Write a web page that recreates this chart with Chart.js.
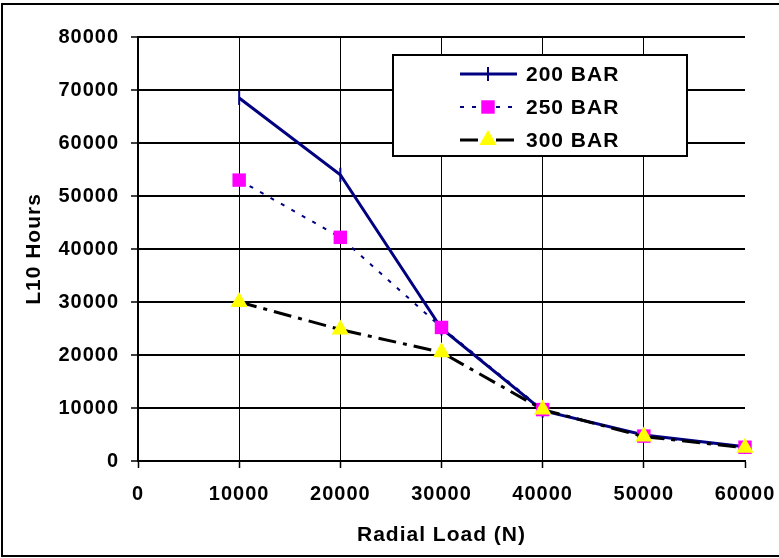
<!DOCTYPE html>
<html>
<head>
<meta charset="utf-8">
<script src="https://cdn.jsdelivr.net/npm/chart.js@4.4.1/dist/chart.umd.min.js"></script>
<style>
  html, body { margin: 0; padding: 0; background: #fff; }
  #wrap { width: 779px; height: 558px; position: relative; }
</style>
</head>
<body>
<div id="wrap"><canvas id="l10chart"></canvas></div>
<script>
'use strict';
//** Data */

let radialloads = [10000, 20000, 30000, 40000, 50000, 60000];
let bar200 = [68500, 54000, 25000, 9500, 4900, 2700];
let bar250 = [53000, 42200, 25200, 9700, 4700, 2600];
let bar300 = [30000, 24800, 20500, 9700, 4600, 2500];
let serieslabels = ['200 BAR', '250 BAR', '300 BAR'];
let yticks = [0, 10000, 20000, 30000, 40000, 50000, 60000, 70000, 80000];
let xticks = [0, 10000, 20000, 30000, 40000, 50000, 60000];

let ctx = document.getElementById('l10chart');

function topoints(values){
  let pts = [];
  for (let i = 0; i < radialloads.length; i++){
    pts.push({x: radialloads[i], y: values[i]});
  }
  return pts;
}

//** Plugins: spacing, frame and legend box */

let spacingplugin = {
  id: 'spacing',
  beforeUpdate(chart){ chart.ctx.letterSpacing = '1px'; },
  beforeDraw(chart){ chart.ctx.letterSpacing = '1px'; }
};

let frameplugin = {
  id: 'frame',
  afterDraw(chart){
    let c = chart.ctx;
    c.save();
    c.strokeStyle = '#000';
    c.lineWidth = 2;
    c.strokeRect(2, 4, 800, 552);
    c.restore();
  }
};

let legendplugin = {
  id: 'boxlegend',
  afterDraw(chart){
    let c = chart.ctx;
    c.save();
    c.fillStyle = '#fff';
    c.fillRect(393, 55, 294, 101);
    c.strokeStyle = '#000';
    c.lineWidth = 2;
    c.strokeRect(393, 55, 294, 101);
    let rows = [74, 107, 140];
    chart.data.datasets.forEach(function(ds, i){
      let y = rows[i];
      c.save();
      c.strokeStyle = ds.borderColor;
      c.lineWidth = ds.borderWidth;
      c.setLineDash(ds.borderDash || []);
      c.beginPath();
      c.moveTo(460, y);
      c.lineTo(517, y);
      c.stroke();
      c.restore();
      c.fillStyle = ds.pointBackgroundColor;
      c.strokeStyle = ds.pointBorderColor;
      c.lineWidth = ds.pointBorderWidth;
      c.setLineDash([]);
      Chart.helpers.drawPoint(c, {
        pointStyle: ds.pointStyle,
        radius: ds.pointRadius,
        rotation: ds.pointRotation || 0,
        borderWidth: ds.pointBorderWidth
      }, 488, y);
      c.fillStyle = '#000';
      c.font = 'bold 21px "Liberation Sans", Arial, sans-serif';
      c.textBaseline = 'middle';
      c.textAlign = 'left';
      c.fillText(ds.label, 526, y + 1);
    });
    c.restore();
  }
};

//** Chart */

Chart.defaults.color = '#000';
Chart.defaults.font.family = '"Liberation Sans", Arial, sans-serif';
Chart.defaults.font.weight = 'bold';

let chartObj = {
  type: 'line',
  data: {
    datasets: [
      {
        label: serieslabels[0],
        data: topoints(bar200),
        borderColor: '#000080',
        borderWidth: 3,
        pointStyle: 'line',
        pointRotation: 90,
        pointRadius: 7,
        pointBorderWidth: 2,
        pointBackgroundColor: '#000080',
        pointBorderColor: '#000080',
        order: 3
      },
      {
        label: serieslabels[1],
        data: topoints(bar250),
        borderColor: '#000080',
        borderWidth: 2,
        borderDash: [4, 8],
        pointStyle: 'rect',
        pointRadius: 9.5,
        pointBorderWidth: 0,
        pointBackgroundColor: '#FF00FF',
        pointBorderColor: '#FF00FF',
        order: 2
      },
      {
        label: serieslabels[2],
        data: topoints(bar300),
        borderColor: '#000000',
        borderWidth: 3,
        borderDash: [18, 7, 4, 7],
        pointStyle: 'triangle',
        pointRadius: 10,
        pointBorderWidth: 0,
        pointBackgroundColor: '#FFFF00',
        pointBorderColor: '#FFFF00',
        order: 1
      }
    ]
  },
  options: {
    responsive: true,
    maintainAspectRatio: false,
    animation: false,
    clip: false,
    layout: { padding: { left: 0, top: 37, right: 34, bottom: 0 } },
    plugins: {
      legend: { display: false },
      tooltip: { enabled: false }
    },
    scales: {
      x: {
        type: 'linear',
        min: xticks[0],
        max: xticks[xticks.length - 1],
        afterBuildTicks(scale){ scale.ticks = xticks.map(v => ({value: v})); },
        afterFit(scale){
          scale.height = 97;
          scale.paddingLeft = 0;
          scale.paddingRight = 0;
        },
        ticks: {
          font: { size: 20 },
          padding: 14,
          maxRotation: 0,
          autoSkip: false,
          callback: v => String(v)
        },
        grid: {
          color: c => (c.tick && (c.tick.value === 0 || c.tick.value === 60000)) ? 'rgba(0,0,0,0)' : '#000',
          tickColor: '#000',
          lineWidth: 1,
          tickLength: 7,
          tickWidth: 1.5
        },
        border: { display: true, color: '#000', width: 2 },
        title: {
          display: true,
          text: 'Radial Load (N)',
          font: { size: 21 },
          padding: { top: 0, bottom: 10 }
        }
      },
      y: {
        min: yticks[0],
        max: yticks[yticks.length - 1],
        afterBuildTicks(scale){ scale.ticks = yticks.map(v => ({value: v})); },
        afterFit(scale){
          scale.width = 138;
          scale.paddingTop = 0;
          scale.paddingBottom = 0;
        },
        ticks: { font: { size: 20 }, padding: 12, callback: v => String(v) },
        grid: {
          color: '#000',
          tickColor: '#000',
          lineWidth: 2,
          tickLength: 7,
          tickWidth: 1.5
        },
        border: { display: true, color: '#000', width: 2 },
        title: {
          display: true,
          text: 'L10 Hours',
          font: { size: 21 },
          padding: { top: 22, bottom: 0 }
        }
      }
    }
  },
  plugins: [spacingplugin, legendplugin, frameplugin]
};

let l10chart = new Chart(ctx, chartObj);
</script>
</body>
</html>
